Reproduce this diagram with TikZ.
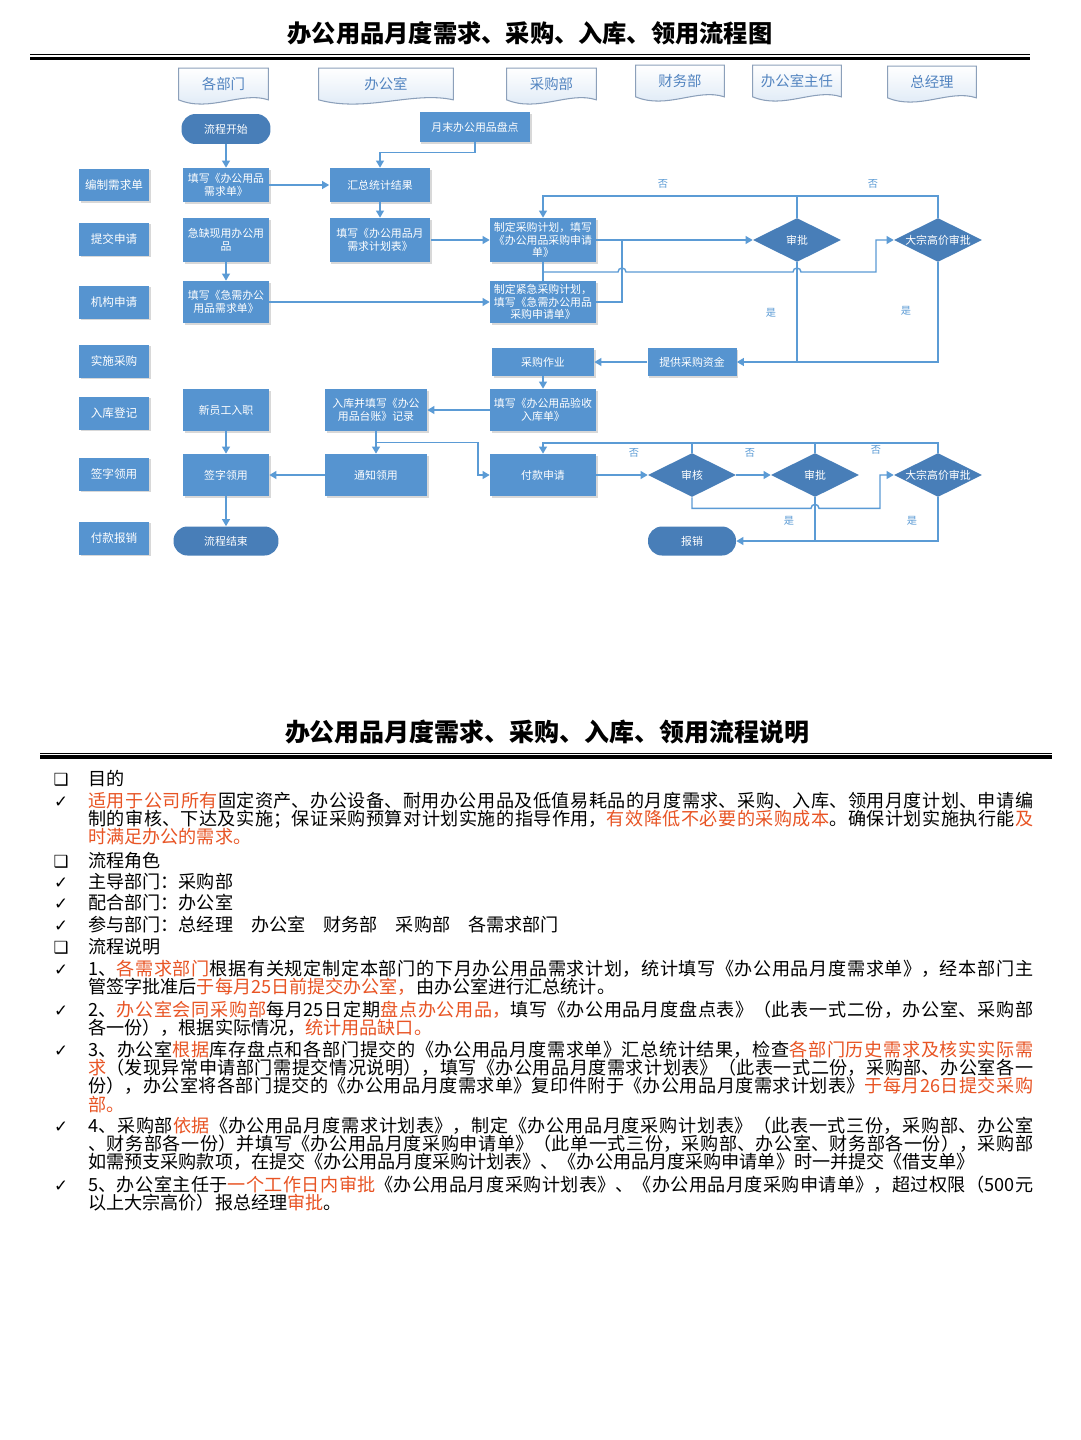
\documentclass[tikz,border=0pt]{standalone}
\usepackage{fontspec}
\setmainfont{Noto Sans CJK SC}
\newfontfamily\symfont{DejaVu Sans}
\usetikzlibrary{positioning,arrows.meta,shapes.geometric,shadows,calc,backgrounds}
\XeTeXlinebreaklocale "zh"
\XeTeXlinebreakskip=0pt plus 1.5pt
\definecolor{boxblue}{RGB}{86,148,208}
\definecolor{darkblue}{RGB}{72,126,184}
\definecolor{lineblue}{RGB}{91,155,213}
\definecolor{hdtext}{RGB}{82,132,192}
\definecolor{hdborder}{RGB}{140,160,186}
\definecolor{hdfill}{RGB}{218,231,245}
\definecolor{hlred}{RGB}{232,84,36}
\newcommand\boxfont{\fontsize{6.2}{7.2}\selectfont}
\newcommand\rolefont{\fontsize{6.6}{8}\selectfont}
\newcommand\hdfont{\fontsize{8.2}{9}\selectfont}
\newcommand\ynfont{\fontsize{5.8}{6}\selectfont}
\newcommand\bodyfont{\fontsize{10.3}{10.5}\selectfont}
\newcommand\redtxt[1]{\textcolor{hlred}{#1}}
\newcommand\lanehead[1]{%
  \begin{pgfonlayer}{background}
  \draw[hdborder,line width=0.6pt,top color=white,bottom color=hdfill]
    (#1.north west) -- (#1.north east) -- (#1.south east)
    .. controls ($(#1.south east)!0.3!(#1.south west)+(0,-9)$)
    and ($(#1.south west)!0.35!(#1.south east)+(0,13)$) .. (#1.south west) -- cycle;
  \end{pgfonlayer}}
\tikzset{
  box/.style={rectangle,fill=boxblue,text=white,font=\boxfont,align=center,
    inner sep=1pt,drop shadow={shadow xshift=1pt,shadow yshift=-1pt,opacity=0.3}},
  role/.style={box,font=\rolefont,minimum width=1.4cm,minimum height=0.66cm},
  term/.style={rectangle,rounded corners=0.28cm,fill=darkblue,text=white,
    font=\boxfont,minimum height=0.6cm},
  dia/.style={diamond,aspect=2,inner sep=0pt,fill=darkblue,text=white,
    font=\boxfont,minimum width=1.76cm,minimum height=0.88cm},
  lane/.style={minimum width=#1,minimum height=0.62cm,inner sep=0pt,
    text=hdtext,font=\hdfont},
  flow/.style={draw=lineblue,line width=0.8pt,-{Triangle[width=4.5pt,length=4pt]}},
  link/.style={draw=lineblue,line width=0.8pt},
  yn/.style={text=lineblue,font=\ynfont,inner sep=0pt},
  title/.style={font=\bfseries\fontsize{13.8}{15}\selectfont},
  bul/.style={font=\symfont\fontsize{9.5}{10}\selectfont,inner sep=0pt,anchor=base},
  para/.style={font=\bodyfont,text width=18.9cm,align=justify,inner sep=0pt,anchor=base west}
}
\begin{document}
\begin{tikzpicture}[x=0.02cm,y=-0.02cm]
\begin{pgfonlayer}{background}
  \fill[white] (0,0) rectangle (1080,1440);
\end{pgfonlayer}
\useasboundingbox (0,0) rectangle (1080,1440);

% flow chart title
\node[title] (ttlChart) at (530,33) {办公用品月度需求、采购、入库、领用流程图};
\draw[line width=0.5pt] (30,54.5) -- (1030,54.5);
\draw[line width=2pt] (30,58.5) -- (1030,58.5);

% lane headers
\node[lane=1.78cm] (hdDept) at (223.5,84) {各部门};
\node[lane=2.68cm] (hdOffice) at (386,84) {办公室};
\node[lane=1.78cm] (hdPurch) at (551.5,84) {采购部};
\node[lane=1.76cm] (hdFin) at (680,81) {财务部};
\node[lane=1.76cm] (hdDir) at (797,81) {办公室主任};
\node[lane=1.76cm] (hdGM) at (932,82) {总经理};
\lanehead{hdDept}\lanehead{hdOffice}\lanehead{hdPurch}
\lanehead{hdFin}\lanehead{hdDir}\lanehead{hdGM}

% steps
\node[role] (roleDraft) at (114,185) {编制需求单};
\node[role] (roleSubmit) at (114,239) {提交申请};
\node[role] (roleUrgent) at (114,302) {机构申请};
\node[role] (roleBuy) at (114,361) {实施采购};
\node[role] (roleStock) at (114,413) {入库登记};
\node[role] (roleSign) at (114,474) {签字领用};
\node[role] (rolePay) at (114,538) {付款报销};

% 各部门
\node[term,minimum width=1.78cm] (start) at (226,129) {流程开始};
\node[box,minimum width=1.72cm,minimum height=0.68cm] (fillReq) at (226,185) {填写《办公用品\\需求单》};
\node[box,minimum width=1.72cm,minimum height=0.88cm] (shortage) at (226,240) {急缺现用办公用\\品};
\node[box,minimum width=1.72cm,minimum height=0.84cm] (fillUrgent) at (226,302) {填写《急需办公\\用品需求单》};
\node[box,minimum width=1.72cm,minimum height=0.84cm] (newStaff) at (226,410) {新员工入职};
\node[box,minimum width=1.72cm,minimum height=0.84cm] (signUse) at (226,475) {签字领用};
\node[term,minimum width=2.1cm,minimum height=0.58cm] (finish) at (226,541) {流程结束};

% 办公室
\node[box,minimum width=2.22cm,minimum height=0.6cm] (stocktake) at (475,127) {月末办公用品盘点};
\node[box,minimum width=2.02cm,minimum height=0.68cm] (summary) at (380,185) {汇总统计结果};
\node[box,minimum width=2.02cm,minimum height=0.88cm] (planSheet) at (380,240) {填写《办公用品月\\需求计划表》};
\node[box,minimum width=2.04cm,minimum height=0.84cm] (ledger) at (376,410) {入库并填写《办公\\用品台账》记录};
\node[box,minimum width=2.04cm,minimum height=0.84cm] (notify) at (376,475) {通知领用};

% 采购部
\node[box,minimum width=2.12cm,minimum height=0.88cm] (purPlan) at (543,240) {制定采购计划，填写\\《办公用品采购申请\\单》};
\node[box,minimum width=2.12cm,minimum height=0.84cm] (urgPlan) at (543,302) {制定紧急采购计划，\\填写《急需办公用品\\采购申请单》};
\node[box,minimum width=2.04cm,minimum height=0.56cm] (purchase) at (543,362) {采购作业};
\node[box,minimum width=2.12cm,minimum height=0.84cm] (receipt) at (543,410) {填写《办公用品验收\\入库单》};
\node[box,minimum width=2.12cm,minimum height=0.84cm] (payReq) at (543,475) {付款申请};

% 财务部 / 办公室主任 / 总经理
\node[box,minimum width=1.78cm,minimum height=0.56cm] (funds) at (692,362) {提供采购资金};
\node[dia] (audit) at (692,475) {审核};
\node[term,minimum width=1.76cm,minimum height=0.58cm] (reimb) at (692,541) {报销};
\node[dia] (appA) at (797,240) {审批};
\node[dia] (appB) at (815,475) {审批};
\node[dia] (bigA) at (938,240) {大宗高价审批};
\node[dia] (bigB) at (938,475) {大宗高价审批};

\coordinate (noA) at (543,196);
\coordinate (noB) at (543,443);
\coordinate (jA) at (622,240);
\coordinate (jB) at (543,272);
\coordinate (jC) at (478,475);

% connectors
\draw[flow] (start) -- (fillReq);
\draw[flow] (fillReq) -- (summary);
\draw[flow] (stocktake.south) -- ++(0,10) -| (summary);
\draw[flow] (summary) -- (planSheet);
\draw[flow] (planSheet) -- (purPlan);
\draw[flow] (shortage) -- (fillUrgent);
\draw[flow] (fillUrgent) -- (urgPlan);
\draw[flow] (purPlan) -- (appA);
\draw[link] (urgPlan.east) -| (jA);
\draw[link] (purPlan) -- (urgPlan);
\draw[flow] (jB) -- ++(75,0) arc (180:360:4) -- ++(167,0) arc (180:360:4)
  -- ++(75,0) |- (bigA);
\draw[flow] (bigA.north) |- (noA) -- (purPlan);
\draw[link] (appA.north) -- (appA.north |- noA);
\draw[flow] (bigA.south) |- (funds);
\draw[link] (appA.south) -- (appA.south |- funds);
\draw[flow] (funds) -- (purchase);
\draw[flow] (purchase) -- (receipt);
\draw[flow] (receipt) -- (ledger);
\draw[flow] (ledger) -- (notify);
\draw[flow] (ledger.south) ++(0,11) -| (jC) -- (payReq);
\draw[flow] (notify) -- (signUse);
\draw[flow] (newStaff) -- (signUse);
\draw[flow] (signUse) -- (finish);
\draw[flow] (payReq) -- (audit);
\draw[flow] (audit) -- (appB);
\draw[flow] (bigB.north) |- (noB) -- (payReq);
\draw[link] (audit.north) -- (audit.north |- noB);
\draw[link] (appB.north) -- (appB.north |- noB);
\draw[flow] (audit.south) -- ++(0,11) -- ++(119,0) arc (180:360:4) -- ++(61,0) |- (bigB);
\draw[flow] (bigB.south) |- (reimb);
\draw[link] (appB.south) -- (appB.south |- reimb);

\node[yn] (noLa) at (663,184) {否};
\node[yn] (noLb) at (873,184) {否};
\node[yn] (yesLa) at (771,313) {是};
\node[yn] (yesLb) at (906,311) {是};
\node[yn] (noLc) at (634,453) {否};
\node[yn] (noLd) at (750,453) {否};
\node[yn] (noLe) at (876,450) {否};
\node[yn] (yesLc) at (789,521) {是};
\node[yn] (yesLd) at (912,521) {是};

% description
\node[title,font=\bfseries\fontsize{14.2}{16}\selectfont] (ttlDesc) at (547,732) {办公用品月度需求、采购、入库、领用流程说明};
\draw[line width=0.5pt] (40,753) -- (1052,753);
\draw[line width=2pt] (40,757) -- (1052,757);

\node[bul] (bxPurpose) at (61,785) {❑};
\node[para] (hPurpose) at (88,785) {目的};
\node[bul] (ckPurpose) at (61,807) {✓};
\node[para] (txPurpose) at (88,807) {\redtxt{适用于公司所有}固定资产、办公设备、耐用办公用品及低值易耗品的月度需求、采购、入库、领用月度计划、申请编\linebreak
制的审核、下达及实施；保证采购预算对计划实施的指导作用，\redtxt{有效降低不必要的采购成本}。确保计划实施执行能\redtxt{及}\linebreak
\redtxt{时满足办公的需求。}};

\node[bul] (bxRoles) at (61,867) {❑};
\node[para] (hRoles) at (88,867) {流程角色};
\node[bul] (ckLead) at (61,888) {✓};
\node[para] (txLead) at (88,888) {主导部门：采购部};
\node[bul] (ckCoop) at (61,909) {✓};
\node[para] (txCoop) at (88,909) {配合部门：办公室};
\node[bul] (ckJoin) at (61,931) {✓};
\node[para] (txJoin) at (88,931) {参与部门：总经理　办公室　财务部　采购部　各需求部门};

\node[bul] (bxSteps) at (61,953) {❑};
\node[para] (hSteps) at (88,953) {流程说明};
\node[bul] (ckOne) at (61,975) {✓};
\node[para] (txOne) at (88,975) {1、\redtxt{各需求部门}根据有关规定制定本部门的下月办公用品需求计划，统计填写《办公用品月度需求单》，经本部门主\linebreak
管签字批准后\redtxt{于每月25日前提交办公室，}由办公室进行汇总统计。};
\node[bul] (ckTwo) at (61,1016) {✓};
\node[para] (txTwo) at (88,1016) {2、\redtxt{办公室会同采购部}每月25日定期\redtxt{盘点办公用品，}填写《办公用品月度盘点表》（此表一式二份，办公室、采购部\linebreak
各一份），根据实际情况，\redtxt{统计用品缺口。}};
\node[bul] (ckThree) at (61,1056) {✓};
\node[para] (txThree) at (88,1056) {3、办公室\redtxt{根据}库存盘点和各部门提交的《办公用品月度需求单》汇总统计结果，检查\redtxt{各部门历史需求及核实实际需}\linebreak
\redtxt{求}（发现异常申请部门需提交情况说明），填写《办公用品月度需求计划表》（此表一式二份，采购部、办公室各一\linebreak
份），办公室将各部门提交的《办公用品月度需求单》复印件附于《办公用品月度需求计划表》\redtxt{于每月26日提交采购}\linebreak
\redtxt{部。}};
\node[bul] (ckFour) at (61,1132) {✓};
\node[para] (txFour) at (88,1132) {4、采购部\redtxt{依据}《办公用品月度需求计划表》，制定《办公用品月度采购计划表》（此表一式三份，采购部、办公室\linebreak
、财务部各一份）并填写《办公用品月度采购申请单》（此单一式三份，采购部、办公室、财务部各一份），采购部\linebreak
如需预支采购款项，在提交《办公用品月度采购计划表》、《办公用品月度采购申请单》时一并提交《借支单》};
\node[bul] (ckFive) at (61,1191) {✓};
\node[para] (txFive) at (88,1191) {5、办公室主任于\redtxt{一个工作日内审批}《办公用品月度采购计划表》、《办公用品月度采购申请单》，超过权限（500元\linebreak
以上大宗高价）报总经理\redtxt{审批}。};
\end{tikzpicture}
\end{document}
